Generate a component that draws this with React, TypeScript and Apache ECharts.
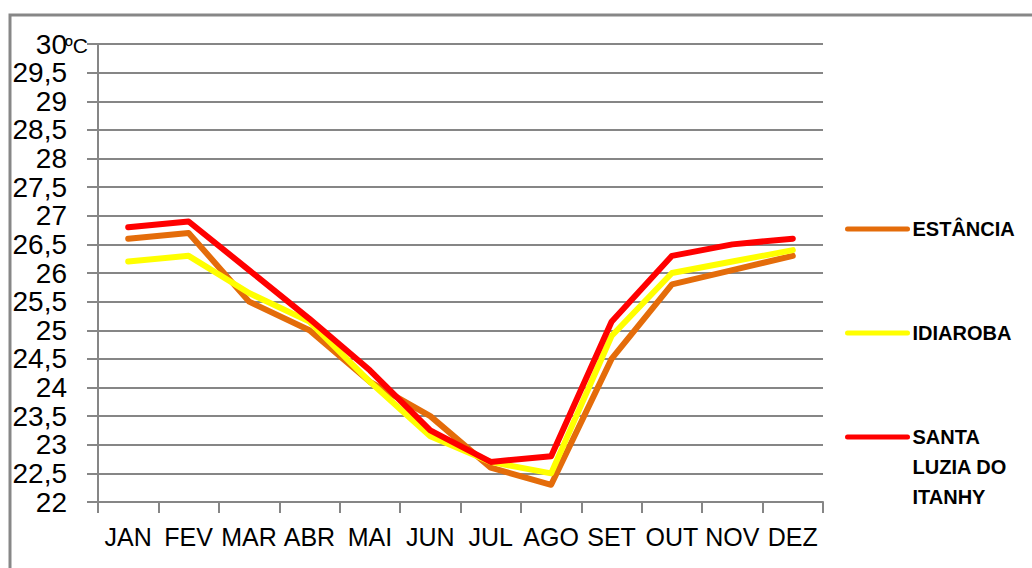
import React, { useEffect, useRef } from "react";
import * as echarts from "echarts";

const months = ["JAN", "FEV", "MAR", "ABR", "MAI", "JUN", "JUL", "AGO", "SET", "OUT", "NOV", "DEZ"];
const estancia = [26.6, 26.7, 25.5, 25.0, 24.1, 23.5, 22.6, 22.3, 24.5, 25.8, 26.05, 26.3];
const idiaroba = [26.2, 26.3, 25.65, 25.15, 24.1, 23.15, 22.7, 22.5, 24.9, 26.0, 26.2, 26.4];
const santaLuzia = [26.8, 26.9, 26.05, 25.2, 24.3, 23.25, 22.7, 22.8, 25.15, 26.3, 26.5, 26.6];

const seriesNames = ["ESTÂNCIA", "IDIAROBA", "SANTA LUZIA DO ITANHY"];
const seriesColors = ["#E46C0A", "#FFFF00", "#FF0000"];
const seriesData = [estancia, idiaroba, santaLuzia];

const yMin = 22;
const yMax = 30;
const yStep = 0.5;

export default function App() {
  const ref = useRef<HTMLDivElement>(null);

  useEffect(() => {
    if (!ref.current) return;
    const chart = echarts.init(ref.current, null, { renderer: "svg" });
    const font = "'Liberation Sans', Arial, sans-serif";
    const gray = "#868686";

    const legendBase = {
      orient: "vertical" as const,
      left: 845,
      padding: 0,
      itemWidth: 60,
      itemHeight: 30,
      selectedMode: false,
      itemStyle: { opacity: 0 },
      lineStyle: { width: 5, cap: "round" as const },
      textStyle: {
        fontFamily: font,
        fontSize: 20,
        fontWeight: "bold" as const,
        color: "#000",
        lineHeight: 30,
      },
    };

    chart.setOption({
      animation: false,
      backgroundColor: "#fff",
      grid: { left: 98, right: 209, top: 44, bottom: 66, containLabel: false },
      xAxis: {
        type: "category",
        data: months,
        boundaryGap: true,
        axisLine: { lineStyle: { color: gray, width: 2 } },
        axisTick: { show: true, length: 11, alignWithLabel: false, lineStyle: { color: gray, width: 2 } },
        axisLabel: {
          fontFamily: font,
          fontSize: 25,
          color: "#000",
          margin: 22,
          interval: 0,
        },
        splitLine: { show: false },
      },
      yAxis: {
        type: "value",
        min: yMin,
        max: yMax,
        interval: yStep,
        axisLine: { show: true, lineStyle: { color: gray, width: 2 } },
        axisTick: { show: true, length: 11, lineStyle: { color: gray, width: 2 } },
        axisLabel: {
          fontFamily: font,
          fontSize: 28,
          color: "#000",
          margin: 31,
          formatter: (v: number) => String(v).replace(".", ","),
        },
        splitLine: { show: true, lineStyle: { color: gray, width: 2 } },
      },
      legend: [
        { ...legendBase, top: 214, data: [seriesNames[0]] },
        { ...legendBase, top: 318, data: [seriesNames[1]] },
        {
          ...legendBase,
          top: 362,
          formatter: () => "\n\nSANTA\nLUZIA DO\nITANHY",
          data: [seriesNames[2]],
        },
      ],
      series: seriesData.map((d, i) => ({
        name: seriesNames[i],
        type: "line",
        data: d,
        symbol: "none",
        showSymbol: false,
        color: seriesColors[i],
        lineStyle: { color: seriesColors[i], width: 6, cap: "round", join: "round" },
        itemStyle: { color: seriesColors[i] },
      })),
      graphic: [
        {
          type: "rect",
          shape: { x: 10, y: 15, width: 1200, height: 1000 },
          style: { fill: "none", stroke: "#878787", lineWidth: 3 },
          silent: true,
        },
        {
          type: "text",
          x: 65,
          y: 45,
          style: {
            text: "ºC",
            fontFamily: font,
            fontSize: 21,
            fill: "#000",
            verticalAlign: "middle",
            align: "left",
          },
          silent: true,
        },
      ],
    });

    return () => chart.dispose();
  }, []);

  return (
    <div
      ref={ref}
      style={{ position: "fixed", left: 0, top: 0, width: 1032, height: 568 }}
    />
  );
}
